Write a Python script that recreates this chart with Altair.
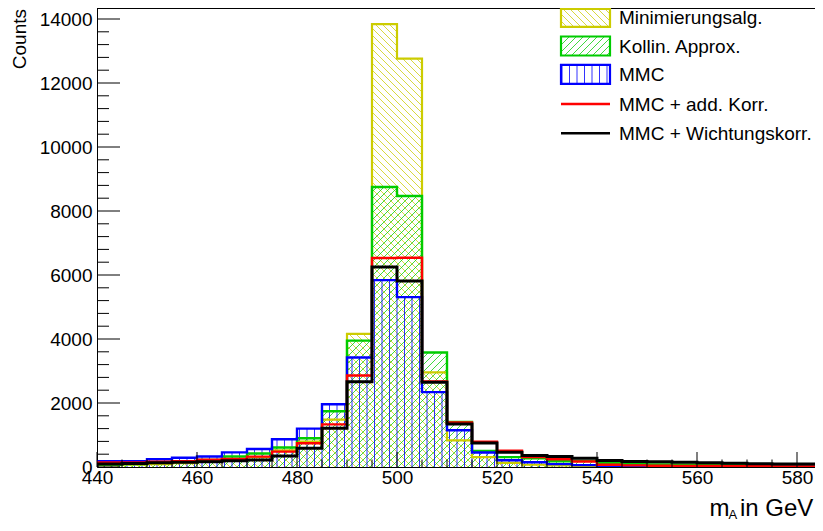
import altair as alt
import numpy as np
import pandas as pd

# ---------------- data ----------------
bin_lo = list(range(440, 585, 5))  # lower bin edges, 5 GeV bins
minimierung = [60, 70, 90, 120, 160, 230, 310, 520, 790, 1480, 4160, 13840, 12760, 2960, 830,
               310, 130, 70, 50, 35, 25, 20, 18, 15, 12, 10, 10, 8, 8]
kollin = [80, 90, 150, 180, 220, 330, 420, 610, 900, 1740, 3950, 8750, 8470, 3580, 1410,
          500, 310, 270, 180, 190, 115, 85, 80, 75, 65, 60, 55, 50, 50]
mmc = [180, 185, 240, 290, 330, 458, 562, 865, 1200, 1960, 3420, 5840, 5310, 2340, 1150,
       455, 210, 150, 90, 60, 40, 30, 25, 20, 15, 12, 10, 8, 8]
mmc_add = [140, 145, 165, 185, 230, 250, 323, 479, 740, 1333, 2860, 6530, 6540, 2670, 1390,
           790, 510, 310, 240, 170, 70, 50, 40, 35, 30, 25, 22, 20, 20]
mmc_wicht = [90, 110, 130, 150, 167, 198, 219, 344, 583, 1208, 2667, 6250, 5810, 2650, 1340,
             750, 460, 360, 330, 270, 200, 170, 165, 146, 135, 115, 100, 95, 94]
x_ticks = [440, 460, 480, 500, 520, 540, 560, 580]
y_ticks = [0, 2000, 4000, 6000, 8000, 10000, 12000, 14000]
legend_labels = ["Minimierungsalg.", "Kollin. Approx.", "MMC", "MMC + add. Korr.", "MMC + Wichtungskorr."]

# ---------------- layout / style ----------------
W, H = 718, 459
PXX = 5.0            # px per GeV
PXY = 448 / 14000    # px per count
X0 = 440
X1 = X0 + W / PXX
YMAX = H / PXY
FONT = "Liberation Sans"
YEL, GRN, BLU, RED, BLK = "#cccc00", "#00cc00", "#0000ff", "#ff0000", "#000000"

xs = alt.Scale(domain=[X0, X1], nice=False, zero=False)
ys = alt.Scale(domain=[0, YMAX], nice=False, zero=False)
XAX = alt.Axis(values=x_ticks, format="d", title=None, ticks=False, grid=False, domainColor="black",
               domainWidth=1, labelFont=FONT, labelFontSize=19, labelColor="black", labelPadding=1,
               labelOverlap=False, labelFlush=False, labelBound=False)
YAX = alt.Axis(values=y_ticks, format="d", title=None, ticks=False, grid=False, domainColor="black",
               domainWidth=1, labelFont=FONT, labelFontSize=19, labelColor="black", labelPadding=5,
               labelOverlap=False, labelFlush=False)


def X(f):
    return alt.X(f, scale=xs, axis=XAX)


def Y(f):
    return alt.Y(f, scale=ys, axis=YAX)


rows = [9.3, 38.0, 66.3, 96.0, 125.3]  # legend row centres (screen px in plot)
BX0, BX1, BOXH = 464, 513, 9.5
TX = 522


def hatch_rect(x0, x1, y0, y1, kind, s):
    """hatch segments inside a rectangle, pixel space with y pointing up"""
    segs = []
    if y1 - y0 <= 0.05:
        return segs
    if kind == "v":
        c = np.ceil(x0 / s) * s
        while c < x1:
            segs.append((c, y0, c, y1))
            c += s
    elif kind == "b":  # '\' : x + y = c
        c = np.ceil((x0 + y0) / s) * s
        while c < x1 + y1:
            lo, hi = max(x0, c - y1), min(x1, c - y0)
            if hi > lo:
                segs.append((lo, c - lo, hi, c - hi))
            c += s
    else:  # '/' : y - x = c
        c = np.ceil((y0 - x1) / s) * s
        while c < y1 - x0:
            lo, hi = max(x0, y0 - c), min(x1, y1 - c)
            if hi > lo:
                segs.append((lo, lo + c, hi, hi + c))
            c += s
    return segs


def hatch_df(vals, kind, s, row):
    segs = []
    for lo, v in zip(bin_lo, vals):
        px0 = (lo - X0) * PXX
        segs += hatch_rect(px0, min(px0 + 5 * PXX, W), 0, v * PXY, kind, s)
    top = max(1.0, rows[row] - BOXH)
    bot = rows[row] + BOXH
    segs += hatch_rect(BX0, BX1, H - bot, H - top, kind, s)
    a = np.array(segs)
    return pd.DataFrame({"x": X0 + a[:, 0] / PXX, "y": a[:, 1] / PXY,
                         "x2": X0 + a[:, 2] / PXX, "y2": a[:, 3] / PXY})


def hatch_layer(vals, kind, s, row, color, width=1.0, op=0.9):
    return alt.Chart(hatch_df(vals, kind, s, row)).mark_rule(
        color=color, strokeWidth=width, opacity=op, clip=True
    ).encode(x=X("x:Q"), y=Y("y:Q"), x2="x2:Q", y2="y2:Q")


def step_layer(vals, color, width):
    xe = [X0] + bin_lo + [bin_lo[-1] + 5]
    ye = [0] + list(vals) + [vals[-1]]
    df = pd.DataFrame({"x": xe, "y": ye, "i": list(range(len(xe)))})
    return alt.Chart(df).mark_line(
        interpolate="step-after", color=color, strokeWidth=width, strokeJoin="miter", clip=True
    ).encode(x=X("x:Q"), y=Y("y:Q"), order="i:Q")


one = pd.DataFrame({"a": [0]})

# inward tick marks
x_minor = [v for v in range(445, int(X1) + 1, 5) if v % 20]
y_minor = [v for v in range(400, int(YMAX), 400) if v % 2000]
ticks = [
    alt.Chart(pd.DataFrame({"v": x_ticks})).mark_rule(color="black", strokeWidth=1).encode(
        x=X("v:Q"), y=alt.value(H), y2=alt.value(H - 15)),
    alt.Chart(pd.DataFrame({"v": x_minor})).mark_rule(color="black", strokeWidth=1).encode(
        x=X("v:Q"), y=alt.value(H), y2=alt.value(H - 7.5)),
    alt.Chart(pd.DataFrame({"v": y_ticks})).mark_rule(color="black", strokeWidth=1).encode(
        y=Y("v:Q"), x=alt.value(0), x2=alt.value(23)),
    alt.Chart(pd.DataFrame({"v": y_minor})).mark_rule(color="black", strokeWidth=1).encode(
        y=Y("v:Q"), x=alt.value(0), x2=alt.value(12)),
    alt.Chart(one).mark_rule(color="black", strokeWidth=1).encode(
        x=alt.value(0), x2=alt.value(W), y=alt.value(0.5)),
]

hatches = [
    hatch_layer(minimierung, "b", 7, 0, YEL, 1.0, 0.75),
    hatch_layer(kollin, "f", 7, 1, GRN, 1.0, 0.75),
    hatch_layer(mmc, "v", 7.5, 2, BLU, 1.0, 0.8),
]
outlines = [
    step_layer(minimierung, YEL, 2.2),
    step_layer(kollin, GRN, 2.4),
    step_layer(mmc, BLU, 2.4),
    step_layer(mmc_add, RED, 2.4),
    step_layer(mmc_wicht, BLK, 3.0),
]

# legend
legend = []
for k, col in enumerate([YEL, GRN, BLU]):
    legend.append(alt.Chart(one).mark_rect(fill="white", fillOpacity=0, stroke=col, strokeWidth=2.2).encode(
        x=alt.value(BX0), x2=alt.value(BX1),
        y=alt.value(max(1.0, rows[k] - BOXH)), y2=alt.value(rows[k] + BOXH)))
for k, col in [(3, RED), (4, BLK)]:
    legend.append(alt.Chart(one).mark_rule(color=col, strokeWidth=2.5).encode(
        x=alt.value(BX0), x2=alt.value(BX1), y=alt.value(rows[k])))
for k, lab in enumerate(legend_labels):
    legend.append(alt.Chart(pd.DataFrame({"t": [lab]})).mark_text(
        align="left", baseline="middle", font=FONT, fontSize=19, color="black", dy=1).encode(
        x=alt.value(TX), y=alt.value(rows[k]), text="t:N"))

# axis titles
titles = [
    alt.Chart(pd.DataFrame({"t": ["Counts"]})).mark_text(
        angle=270, align="right", baseline="alphabetic", font=FONT, fontSize=19, color="black").encode(
        x=alt.value(-71), y=alt.value(1), text="t:N"),
    alt.Chart(pd.DataFrame({"t": ["m"]})).mark_text(
        align="left", baseline="alphabetic", font=FONT, fontSize=24, color="black").encode(
        x=alt.value(612.5), y=alt.value(508), text="t:N"),
    alt.Chart(pd.DataFrame({"t": ["A"]})).mark_text(
        align="left", baseline="alphabetic", font=FONT, fontSize=13, color="black").encode(
        x=alt.value(631.5), y=alt.value(511), text="t:N"),
    alt.Chart(pd.DataFrame({"t": ["in GeV"]})).mark_text(
        align="left", baseline="alphabetic", font=FONT, fontSize=24, color="black").encode(
        x=alt.value(643), y=alt.value(508), text="t:N"),
]

chart = alt.layer(*hatches, *outlines, *ticks, *legend, *titles).properties(
    width=W, height=H,
    padding={"left": 89, "top": 0, "right": 0, "bottom": 56},
    autosize=alt.AutoSizeParams(type="none"),
    background="white",
).configure_view(strokeWidth=0)

chart.save("out.html", embed_options={"renderer": "svg", "actions": False})
